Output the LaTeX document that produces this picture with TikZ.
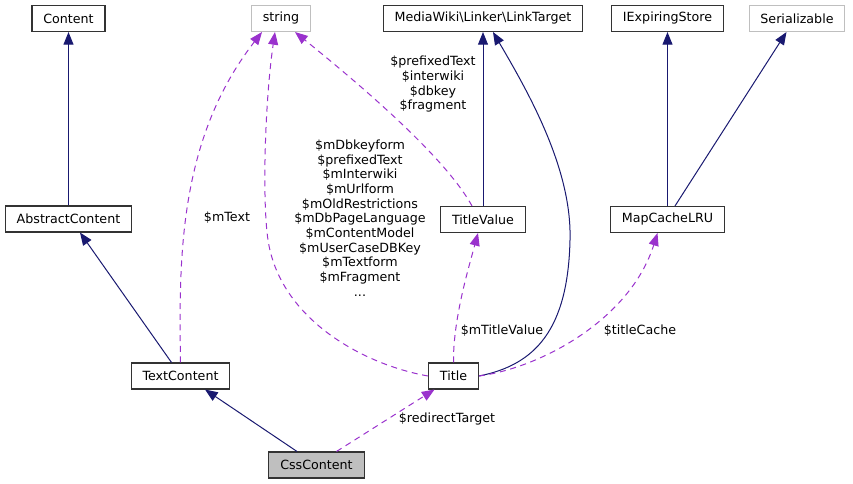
\documentclass[tikz,border=0pt]{standalone}
\usepackage{fontspec}
\setmainfont{DejaVu Sans}
\usetikzlibrary{arrows.meta,calc}
\definecolor{navy}{HTML}{191970}
\definecolor{orchid}{HTML}{9A32CD}
\definecolor{lgray}{HTML}{BFBFBF}
\tikzset{
    cls/.style={draw=black!80, line width=0.8pt, rectangle, inner xsep=8.5pt, inner ysep=0pt,
        minimum height=19.5pt, font=\fontsize{9.5}{11}\selectfont},
    ext/.style={cls, draw=lgray},
    inh/.style={navy, line width=0.75pt, -{Triangle[length=9.5pt,width=7.5pt]}},
    use/.style={orchid, line width=0.75pt, dash pattern=on 4.5pt off 3.5pt, -{Triangle[length=9.5pt,width=7.5pt]}},
    lbl/.style={font=\fontsize{9.5}{11}\selectfont, align=center, inner sep=0pt},
}
\begin{document}
\begin{tikzpicture}[x=0.75pt,y=-0.75pt]
                    \useasboundingbox (0,0) rectangle (853,484);
                    % クラス
                    \node[cls] (co) at (68.5,18.5) {Content};
                    \node[ext] (str) at (281,18.5) {string};
                    \node[cls] (lt) at (483,18.5) {MediaWiki\textbackslash Linker\textbackslash LinkTarget};
                    \node[cls] (ie) at (667.5,18.5) {IExpiringStore};
                    \node[ext] (se) at (797,18.5) {Serializable};
                    \node[cls] (ac) at (68.5,219) {AbstractContent};
                    \node[cls] (tv) at (483,219.5) {TitleValue};
                    \node[cls] (mc) at (667.5,219.5) {MapCacheLRU};
                    \node[cls] (tc) at (180.5,376) {TextContent};
                    \node[cls] (ti) at (453.5,376) {Title};
                    \node[cls, fill=lgray] (css) at (316.5,465) {CssContent};
                    
                    % 継承
                    \draw[inh] (ac.north) -- (co.south);
                    \draw[inh] ($(tc.north)+(-9,0)$) -- ($(ac.south)+(11.5,0)$);
                    \draw[inh] ($(css.north)+(-19.5,0)$) -- ($(tc.south)+(24.5,0)$);
                    \draw[inh] (tv.north) -- (lt.south);
                    \draw[inh] (ti.east) .. controls (535,365) and (568,330) .. (570,240)
                        .. controls (572,170) and (530,95) .. ($(lt.south)+(10,0)$);
                    \draw[inh] (mc.north) -- (ie.south);
                    \draw[inh] ($(mc.north)+(7.5,0)$) -- ($(se.south)+(-10.5,0)$);
                    
                    % 利用関係
                    \draw[use] (tc.north) .. controls (179,260) and (178,140) .. ($(str.south)+(-19,0)$);
                    \node[lbl] (lmtext) at (227,218) {\$mText};
                    
                    \draw[use] (ti.west) .. controls (365,365) and (280,320) .. (268,240)
                        .. controls (262,200) and (265,100) .. ($(str.south)+(-6,0)$);
                    \node[lbl] (ltitle) at (360,218) {\$mDbkeyform\\\$prefixedText\\\$mInterwiki\\\$mUrlform\\\$mOldRestrictions\\\$mDbPageLanguage\\\$mContentModel\\\$mUserCaseDBKey\\\$mTextform\\\$mFragment\\...};
                    
                    \draw[use] ($(tv.north)+(-11,0)$) .. controls (455,175) and (410,125) .. ($(str.south)+(14,0)$);
                    \node[lbl] (ltv) at (433,84.5) {\$prefixedText\\\$interwiki\\\$dbkey\\\$fragment};
                    
                    \draw[use] (ti.north) .. controls (453,320) and (468,270) .. ($(tv.south)+(-5,0)$);
                    \node[lbl] (lmtv) at (502,331) {\$mTitleValue};
                    
                    \draw[use] (ti.east) .. controls (540,368) and (630,320) .. ($(mc.south)+(-10,0)$);
                    \node[lbl] (lcache) at (640,331) {\$titleCache};
                    
                    \draw[use] ($(css.north)+(20,0)$) -- ($(ti.south)+(-19,0)$);
                    \node[lbl] (lredir) at (447,419) {\$redirectTarget};
                \end{tikzpicture}
\end{document}
